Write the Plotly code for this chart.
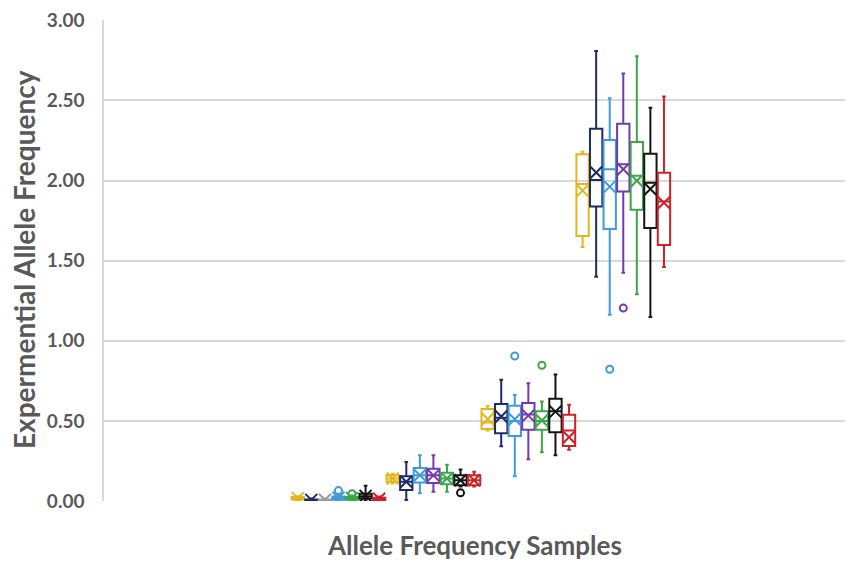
import plotly.graph_objects as go

# ---------------- data ----------------
groups = ["Sample 1", "Sample 2", "Sample 3", "Sample 4"]
slot_names = ["S1", "S2", "S3", "S4", "S5", "S6", "S7"]

# per group, per slot (7 slots)
lower = [
    [0.000, 0.000, 0.000, 0.000, 0.000, 0.005, 0.000],
    [0.110, 0.006, 0.048, 0.058, 0.058, 0.090, 0.090],
    [0.440, 0.341, 0.155, 0.260, 0.305, 0.285, 0.320],
    [1.586, 1.400, 1.163, 1.425, 1.291, 1.148, 1.460],
]
q1 = [
    [0.010, 0.003, 0.003, 0.008, 0.008, 0.015, 0.005],
    [0.120, 0.068, 0.116, 0.113, 0.105, 0.099, 0.099],
    [0.450, 0.423, 0.405, 0.444, 0.444, 0.429, 0.343],
    [1.654, 1.838, 1.698, 1.931, 1.817, 1.704, 1.597],
]
median = [
    [0.018, 0.006, 0.006, 0.015, 0.015, 0.030, 0.012],
    [0.140, 0.120, 0.160, 0.160, 0.140, 0.130, 0.130],
    [0.490, 0.520, 0.500, 0.540, 0.500, 0.560, 0.440],
    [1.978, 2.003, 2.071, 2.102, 2.030, 1.987, 1.870],
]
q3 = [
    [0.025, 0.010, 0.010, 0.028, 0.025, 0.045, 0.020],
    [0.160, 0.155, 0.206, 0.202, 0.176, 0.161, 0.161],
    [0.574, 0.605, 0.595, 0.611, 0.560, 0.638, 0.539],
    [2.164, 2.323, 2.253, 2.354, 2.241, 2.167, 2.049],
]
upper = [
    [0.030, 0.015, 0.015, 0.040, 0.035, 0.095, 0.028],
    [0.170, 0.244, 0.285, 0.285, 0.227, 0.196, 0.182],
    [0.593, 0.756, 0.661, 0.735, 0.621, 0.789, 0.601],
    [2.179, 2.809, 2.514, 2.668, 2.776, 2.455, 2.524],
]
mean = [
    [0.018, 0.007, 0.008, 0.020, 0.018, 0.032, 0.014],
    [0.140, 0.120, 0.161, 0.160, 0.140, 0.130, 0.130],
    [0.512, 0.527, 0.510, 0.533, 0.502, 0.558, 0.398],
    [1.937, 2.050, 1.962, 2.071, 1.999, 1.947, 1.861],
]
# outliers: (group index, slot index, value)
outlier_group = [0, 0, 1, 2, 2, 3, 3]
outlier_slot = [3, 4, 5, 2, 4, 2, 3]
outlier_value = [0.065, 0.045, 0.051, 0.905, 0.847, 0.822, 1.204]

y_ticks = [0.0, 0.5, 1.0, 1.5, 2.0, 2.5, 3.0]
y_title = "Expermential Allele Frequency"
x_title = "Allele Frequency Samples"

# ---------------- styles ----------------
YEL, NAV, GRY, LBL, PUR, GRN, BLK, RED = ("#E3B71C", "#1E2B6B", "#9B9B9B", "#3F9BDB",
                                          "#7339AE", "#3DA64A", "#141414", "#CC2229")
slot_colors = [
    [YEL, NAV, GRY, LBL, GRN, BLK, RED],
    [YEL, NAV, LBL, PUR, GRN, BLK, RED],
    [YEL, NAV, LBL, PUR, GRN, BLK, RED],
    [YEL, NAV, LBL, PUR, GRN, BLK, RED],
]
n_slots = len(slot_names)
pitch = 1.0 / n_slots
box_w = 0.13


def pos(g, s):
    return g + (s - (n_slots - 1) / 2) * pitch


fig = go.Figure()
mx, my, mc = [], [], []
for g in range(len(groups)):
    for s in range(n_slots):
        c = slot_colors[g][s]
        fig.add_trace(go.Box(
            x=[pos(g, s)], q1=[q1[g][s]], median=[median[g][s]], q3=[q3[g][s]],
            lowerfence=[lower[g][s]], upperfence=[upper[g][s]],
            width=box_w, whiskerwidth=0.3, boxpoints=False,
            line=dict(color=c, width=2), fillcolor="rgba(255,255,255,0)",
            showlegend=False, name=f"{groups[g]} {slot_names[s]}"))
        mx.append(pos(g, s))
        my.append(mean[g][s])
        mc.append(c)

fig.add_trace(go.Scatter(
    x=mx, y=my, mode="markers", showlegend=False,
    marker=dict(symbol="x-thin-open", size=12, color=mc, line=dict(width=2))))

fig.add_trace(go.Scatter(
    x=[pos(g, s) for g, s in zip(outlier_group, outlier_slot)],
    y=outlier_value, mode="markers", showlegend=False,
    marker=dict(symbol="circle-open", size=7,
                color=[slot_colors[g][s] for g, s in zip(outlier_group, outlier_slot)],
                line=dict(width=2))))

FONT = "Lato"
# page body has an 8px margin, so the figure is 8px smaller than the window
fig.update_layout(
    width=845, height=554,
    margin=dict(l=96, r=0, t=9, b=61),
    paper_bgcolor="white", plot_bgcolor="white",
    font=dict(family=FONT, color="#595959"),
    xaxis=dict(range=[-2.47, 5.42], showgrid=False, zeroline=False,
               showline=False, showticklabels=False, ticks=""),
    yaxis=dict(range=[0, 3.002], tickvals=y_ticks, tickformat=".2f",
               showgrid=True, gridcolor="#D9D9D9", gridwidth=1.5,
               zeroline=False, showline=True, linecolor="#D9D9D9", linewidth=1.5,
               ticks="", ticklabelstandoff=14, ticklabeloverflow="allow",
               tickfont=dict(family=FONT, size=19, color="#595959", weight="bold")),
    annotations=[
        dict(text=y_title, xref="paper", yref="paper", x=-0.1068, y=0.501,
             xanchor="center", yanchor="middle", textangle=-90, showarrow=False,
             font=dict(family=FONT, size=28, color="#595959", weight="bold")),
        dict(text=x_title, xref="paper", yref="paper", x=0.495, y=-0.0909,
             xanchor="center", yanchor="middle", showarrow=False,
             font=dict(family=FONT, size=26, color="#595959", weight="bold")),
    ],
)

fig.write_html("out.html")
